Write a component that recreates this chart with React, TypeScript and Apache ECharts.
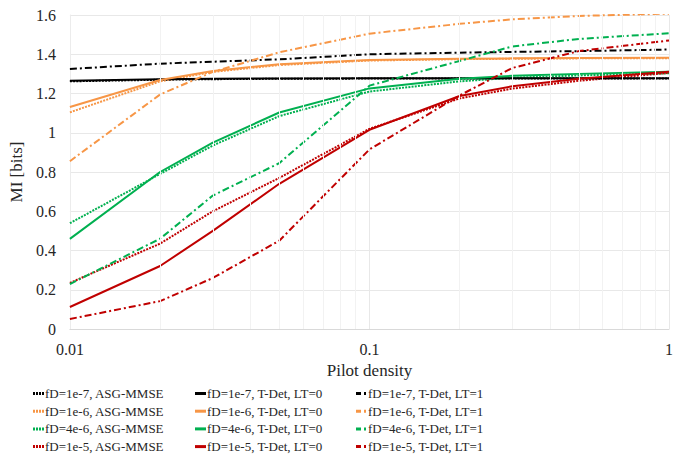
import React, { useEffect, useRef } from "react";
import * as echarts from "echarts";

// Pilot density sample points (x axis, log scale)
const pilotDensity = [0.01, 0.02, 0.03, 0.05, 0.1, 0.2, 0.3, 0.5, 1];
// Minor vertical grid positions
const minorGridX = [0.02, 0.03, 0.04, 0.05, 0.06, 0.07, 0.08, 0.09, 0.2, 0.3, 0.4, 0.5, 0.6, 0.7, 0.8, 0.9];

// fD = 1e-7
const asg1e7 = [1.262, 1.27, 1.273, 1.275, 1.276, 1.276, 1.276, 1.276, 1.276];
const lt0_1e7 = [1.265, 1.272, 1.275, 1.277, 1.278, 1.278, 1.278, 1.278, 1.278];
const lt1_1e7 = [1.325, 1.352, 1.362, 1.374, 1.4, 1.408, 1.412, 1.416, 1.424];
// fD = 1e-6
const asg1e6 = [1.104, 1.262, 1.31, 1.345, 1.368, 1.375, 1.377, 1.379, 1.38];
const lt0_1e6 = [1.131, 1.269, 1.315, 1.349, 1.371, 1.377, 1.379, 1.381, 1.382];
const lt1_1e6 = [0.855, 1.195, 1.31, 1.41, 1.505, 1.555, 1.578, 1.595, 1.607];
// fD = 4e-6
const asg4e6 = [0.539, 0.79, 0.935, 1.085, 1.21, 1.262, 1.28, 1.292, 1.303];
const lt0_4e6 = [0.459, 0.8, 0.95, 1.103, 1.226, 1.275, 1.29, 1.3, 1.311];
const lt1_4e6 = [0.229, 0.46, 0.68, 0.845, 1.24, 1.366, 1.44, 1.478, 1.507];
// fD = 1e-5
const asg1e5 = [0.235, 0.435, 0.6, 0.77, 1.02, 1.175, 1.225, 1.265, 1.305];
const lt0_1e5 = [0.112, 0.321, 0.5, 0.74, 1.015, 1.187, 1.237, 1.275, 1.311];
const lt1_1e5 = [0.051, 0.142, 0.26, 0.45, 0.915, 1.19, 1.33, 1.416, 1.47];

const colBlack = "#000000";
const colOrange = "#F79646";
const colGreen = "#00B050";
const colRed = "#C00000";

const DOT: number[] = [2, 1.2];
const DASHDOT: number[] = [7, 3, 2, 3];

const ICON_DOT = "path://M0,0h2v3h-2zM3,0h2v3h-2zM6,0h2v3h-2zM9,0h2v3h-2z";
const ICON_SOLID = "path://M0,0h11v3h-11z";
const ICON_DASHDOT = "path://M0,0h5v3h-5zM8,0h2v3h-2zM11,0h0v3h0z";

type SeriesDef = { name: string; data: number[]; color: string; dash: "solid" | number[] };

const col1: SeriesDef[] = [
  { name: "fD=1e-7, ASG-MMSE", data: asg1e7, color: colBlack, dash: DOT },
  { name: "fD=1e-6, ASG-MMSE", data: asg1e6, color: colOrange, dash: DOT },
  { name: "fD=4e-6, ASG-MMSE", data: asg4e6, color: colGreen, dash: DOT },
  { name: "fD=1e-5, ASG-MMSE", data: asg1e5, color: colRed, dash: DOT },
];
const col2: SeriesDef[] = [
  { name: "fD=1e-7, T-Det, LT=0", data: lt0_1e7, color: colBlack, dash: "solid" },
  { name: "fD=1e-6, T-Det, LT=0", data: lt0_1e6, color: colOrange, dash: "solid" },
  { name: "fD=4e-6, T-Det, LT=0", data: lt0_4e6, color: colGreen, dash: "solid" },
  { name: "fD=1e-5, T-Det, LT=0", data: lt0_1e5, color: colRed, dash: "solid" },
];
const col3: SeriesDef[] = [
  { name: "fD=1e-7, T-Det, LT=1", data: lt1_1e7, color: colBlack, dash: DASHDOT },
  { name: "fD=1e-6, T-Det, LT=1", data: lt1_1e6, color: colOrange, dash: DASHDOT },
  { name: "fD=4e-6, T-Det, LT=1", data: lt1_4e6, color: colGreen, dash: DASHDOT },
  { name: "fD=1e-5, T-Det, LT=1", data: lt1_1e5, color: colRed, dash: DASHDOT },
];

const FONT = "Liberation Serif";
const TEXT_COLOR = "#262626";

export default function App() {
  const ref = useRef<HTMLDivElement>(null);
  useEffect(() => {
    if (!ref.current) return;
    const chart = echarts.init(ref.current, undefined, { renderer: "svg" });

    const lineSeries = [...col1, ...col2, ...col3].map((s) => ({
      name: s.name,
      type: "line",
      data: pilotDensity.map((x, i) => [x, s.data[i]]),
      symbol: "none",
      showSymbol: false,
      smooth: false,
      clip: true,
      z: 3,
      lineStyle: { color: s.color, width: 2, type: s.dash },
      itemStyle: { color: s.color },
    }));

    const legendBase = {
      orient: "vertical",
      top: 387,
      height: 90,
      itemWidth: 11,
      itemHeight: 3,
      itemGap: 4.7,
      selectedMode: false,
      padding: 0,
      textStyle: { fontFamily: FONT, fontSize: 13, color: TEXT_COLOR, lineHeight: 13, padding: [0, 0, 0, -4] },
    };

    chart.setOption({
      animation: false,
      textStyle: { fontFamily: FONT },
      grid: { left: 64, right: 17, top: 15, bottom: 127, containLabel: false },
      legend: [
        { ...legendBase, left: 33, data: col1.map((s) => ({ name: s.name, icon: ICON_DOT })) },
        { ...legendBase, left: 195, data: col2.map((s) => ({ name: s.name, icon: ICON_SOLID })) },
        { ...legendBase, left: 356, data: col3.map((s) => ({ name: s.name, icon: ICON_DASHDOT })) },
      ],
      xAxis: {
        type: "log",
        logBase: 10,
        min: 0.01,
        max: 1,
        name: "Pilot density",
        nameLocation: "middle",
        nameGap: 31,
        nameTextStyle: { fontFamily: FONT, fontSize: 17, color: TEXT_COLOR },
        axisLine: { show: true, lineStyle: { color: "#d9d9d9", width: 1 } },
        axisTick: { show: false },
        axisLabel: { fontFamily: FONT, fontSize: 16, color: TEXT_COLOR, margin: 12 },
        splitLine: { show: true, lineStyle: { color: "#e8e8e8", width: 1 } },
      },
      yAxis: {
        type: "value",
        min: 0,
        max: 1.6,
        interval: 0.2,
        name: "MI [bits]",
        nameLocation: "middle",
        nameGap: 36,
        nameTextStyle: { fontFamily: FONT, fontSize: 17, color: TEXT_COLOR },
        axisLine: { show: true, lineStyle: { color: "#ececec", width: 1 } },
        axisTick: { show: false },
        axisLabel: { fontFamily: FONT, fontSize: 16, color: TEXT_COLOR, margin: 14 },
        splitLine: { show: true, lineStyle: { color: "#e8e8e8", width: 1 } },
      },
      series: [
        {
          name: "minor-grid",
          type: "line",
          data: [],
          silent: true,
          z: 1,
          markLine: {
            silent: true,
            symbol: ["none", "none"],
            label: { show: false },
            lineStyle: { color: "#f2f2f2", width: 1, type: "solid" },
            data: minorGridX.map((v) => ({ xAxis: v })),
          },
        },
        ...lineSeries,
      ],
    });
    return () => chart.dispose();
  }, []);
  return <div ref={ref} style={{ width: 686, height: 456, position: "absolute", left: 0, top: 0 }} />;
}
